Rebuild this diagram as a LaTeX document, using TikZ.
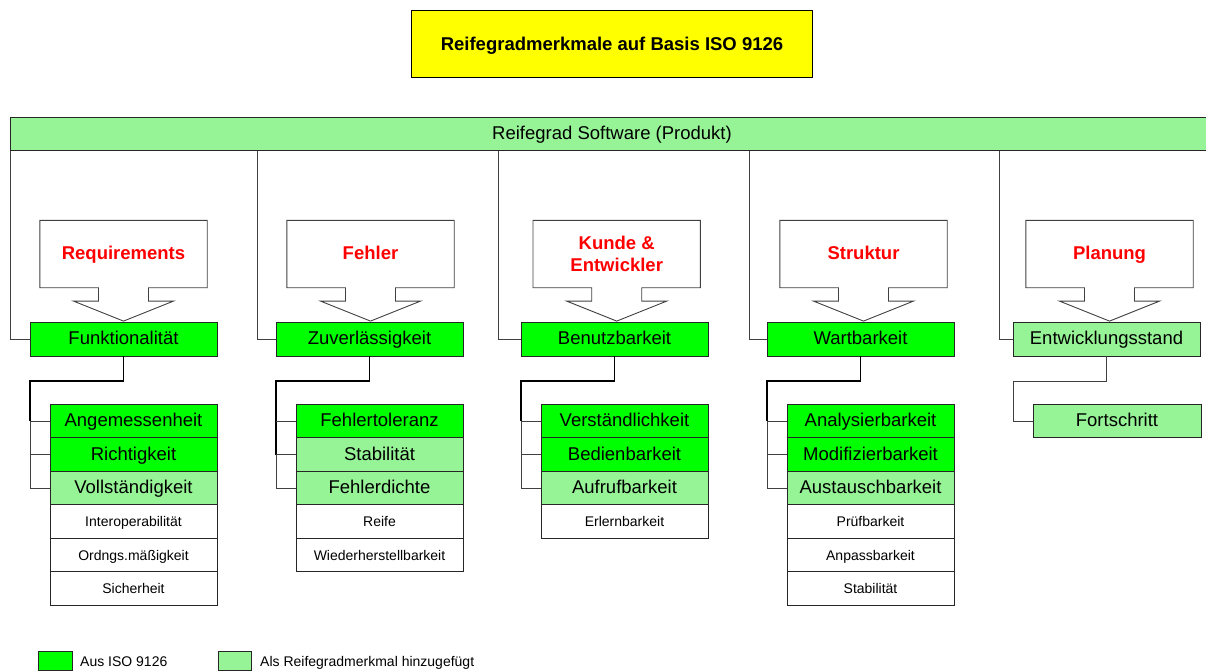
\documentclass[tikz,border=0pt]{standalone}
\usepackage{fontspec}
\setmainfont{Liberation Sans}
\definecolor{isogreen}{RGB}{0,255,0}
\definecolor{hatchbg}{RGB}{150,244,150}
\definecolor{titleyellow}{RGB}{255,255,0}
\definecolor{linegray}{RGB}{64,64,64}
\newcommand{\bigfnt}{\fontsize{18.5pt}{22.3pt}\selectfont}
\newcommand{\smallfnt}{\fontsize{14pt}{16pt}\selectfont}
\begin{document}
\begin{tikzpicture}[x=1pt,y=-1pt,
 rowbox/.style={rectangle, draw=black!85, line width=0.9pt, inner sep=0pt, outer sep=0pt, minimum width=167pt, minimum height=33.5pt},
 iso/.style={rowbox, fill=isogreen, font=\bigfnt, text height=15pt, text depth=4pt},
 added/.style={rowbox, fill=hatchbg, font=\bigfnt, text height=15pt, text depth=4pt},
 other/.style={rowbox, fill=white, font=\smallfnt, text height=13.4pt, text depth=3pt},
 levelone/.style={minimum width=187pt},
 callbase/.style={rectangle, inner sep=0pt, minimum width=167pt, minimum height=67pt, align=center, text=red, font=\bigfnt\bfseries},
 callbox/.style={callbase, text height=14.6pt, text depth=4pt},
 calloutline/.style={draw=linegray, line width=0.9pt},
 conn/.style={draw=linegray, line width=0.9pt},
 mainconn/.style={draw=black, line width=1.8pt},
 legtext/.style={font=\smallfnt, anchor=base west, inner sep=0pt},
]
\useasboundingbox (0,0) rectangle (1206,670);
\clip (0,0) rectangle (1206,670);

% title and top bar
\node[rectangle, draw=black, line width=0.9pt, fill=titleyellow, minimum width=401pt, minimum height=67pt, font=\bigfnt\bfseries, text height=16.4pt, text depth=4pt] (title) at (612,43.8) {Reifegradmerkmale auf Basis ISO 9126};
\node[added, minimum width=1204pt, minimum height=33.4pt, anchor=north west] (bar) at (10,117.3) {Reifegrad Software (Produkt)};

\coordinate (v1) at (10,0);
\coordinate (v2) at (257.5,0);
\coordinate (v3) at (498.5,0);
\coordinate (v4) at (749,0);
\coordinate (v5) at (999.5,0);

% ---------- column 1
\node[callbox] (r1) at (123.5,254) {Requirements};
\draw[calloutline] (r1.south west) -- (r1.north west) -- (r1.north east) -- (r1.south east) -- ([xshift=25pt]r1.south) -- ++(0,13.4) -- ++(25,0) -- ++(-50,20) -- ++(-50,-20) -- ++(25,0) -- ++(0,-13.4) -- cycle;
\node[iso, levelone, anchor=north west] (k1) at (30,322.7) {Funktionalität};
\node[iso, anchor=north west] (a1) at (50,404.3) {Angemessenheit};
\node[iso, anchor=north] (a2) at (a1.south) {Richtigkeit};
\node[added, anchor=north] (a3) at (a2.south) {Vollständigkeit};
\node[other, anchor=north] (a4) at (a3.south) {Interoperabilität};
\node[other, anchor=north] (a5) at (a4.south) {Ordngs.mäßigkeit};
\node[other, anchor=north] (a6) at (a5.south) {Sicherheit};
\draw[conn] (bar.south -| v1) |- (k1.west);
\draw[mainconn] (k1.south) -- ++(0,25) -| ([xshift=-20pt]a1.west);
\draw[conn] ([xshift=-20pt]a1.west) -- (a1.west);
\draw[conn] ([xshift=-20pt]a1.west) |- (a2.west);
\draw[conn] ([xshift=-20pt]a2.west) |- (a3.west);

% ---------- column 2
\node[callbox] (r2) at (370.5,254) {Fehler};
\draw[calloutline] (r2.south west) -- (r2.north west) -- (r2.north east) -- (r2.south east) -- ([xshift=25pt]r2.south) -- ++(0,13.4) -- ++(25,0) -- ++(-50,20) -- ++(-50,-20) -- ++(25,0) -- ++(0,-13.4) -- cycle;
\node[iso, levelone, anchor=north west] (k2) at (276,322.7) {Zuverlässigkeit};
\node[iso, anchor=north west] (b1) at (296,404.3) {Fehlertoleranz};
\node[added, anchor=north] (b2) at (b1.south) {Stabilität};
\node[added, anchor=north] (b3) at (b2.south) {Fehlerdichte};
\node[other, anchor=north] (b4) at (b3.south) {Reife};
\node[other, anchor=north] (b5) at (b4.south) {Wiederherstellbarkeit};
\draw[conn] (bar.south -| v2) |- (k2.west);
\draw[mainconn] (k2.south) -- ++(0,25) -| ([xshift=-20pt]b2.west);
\draw[conn] ([xshift=-20pt]b1.west) -- (b1.west);
\draw[conn] ([xshift=-20pt]b2.west) -- (b2.west);
\draw[conn] ([xshift=-20pt]b2.west) |- (b3.west);

% ---------- column 3
\node[callbase] (r3) at (616.7,254) {Kunde \&\\Entwickler};
\draw[calloutline] (r3.south west) -- (r3.north west) -- (r3.north east) -- (r3.south east) -- ([xshift=25pt]r3.south) -- ++(0,13.4) -- ++(25,0) -- ++(-50,20) -- ++(-50,-20) -- ++(25,0) -- ++(0,-13.4) -- cycle;
\node[iso, levelone, anchor=north west] (k3) at (521,322.7) {Benutzbarkeit};
\node[iso, anchor=north west] (c1) at (541,404.3) {Verständlichkeit};
\node[iso, anchor=north] (c2) at (c1.south) {Bedienbarkeit};
\node[added, anchor=north] (c3) at (c2.south) {Aufrufbarkeit};
\node[other, anchor=north] (c4) at (c3.south) {Erlernbarkeit};
\draw[conn] (bar.south -| v3) |- (k3.west);
\draw[mainconn] (k3.south) -- ++(0,25) -| ([xshift=-20pt]c1.west);
\draw[conn] ([xshift=-20pt]c1.west) -- (c1.west);
\draw[conn] ([xshift=-20pt]c1.west) |- (c2.west);
\draw[conn] ([xshift=-20pt]c2.west) |- (c3.west);

% ---------- column 4
\node[callbox] (r4) at (863.5,254) {Struktur};
\draw[calloutline] (r4.south west) -- (r4.north west) -- (r4.north east) -- (r4.south east) -- ([xshift=25pt]r4.south) -- ++(0,13.4) -- ++(25,0) -- ++(-50,20) -- ++(-50,-20) -- ++(25,0) -- ++(0,-13.4) -- cycle;
\node[iso, levelone, anchor=north west] (k4) at (767,322.7) {Wartbarkeit};
\node[iso, anchor=north west] (d1) at (787,404.3) {Analysierbarkeit};
\node[iso, anchor=north] (d2) at (d1.south) {Modifizierbarkeit};
\node[added, anchor=north] (d3) at (d2.south) {Austauschbarkeit};
\node[other, anchor=north] (d4) at (d3.south) {Prüfbarkeit};
\node[other, anchor=north] (d5) at (d4.south) {Anpassbarkeit};
\node[other, anchor=north] (d6) at (d5.south) {Stabilität};
\draw[conn] (bar.south -| v4) |- (k4.west);
\draw[mainconn] (k4.south) -- ++(0,25) -| ([xshift=-20pt]d1.west);
\draw[conn] ([xshift=-20pt]d1.west) -- (d1.west);
\draw[conn] ([xshift=-20pt]d1.west) |- (d2.west);
\draw[conn] ([xshift=-20pt]d2.west) |- (d3.west);

% ---------- column 5
\node[callbox] (r5) at (1109.5,254) {Planung};
\draw[calloutline] (r5.south west) -- (r5.north west) -- (r5.north east) -- (r5.south east) -- ([xshift=25pt]r5.south) -- ++(0,13.4) -- ++(25,0) -- ++(-50,20) -- ++(-50,-20) -- ++(25,0) -- ++(0,-13.4) -- cycle;
\node[added, levelone, anchor=north west] (k5) at (1013,322.7) {Entwicklungsstand};
\node[added, levelone, minimum width=168pt, anchor=north west] (e1) at (1033,404.3) {Fortschritt};
\draw[conn] (bar.south -| v5) |- (k5.west);
\draw[conn] (k5.south) -- ++(0,25) -| ([xshift=-20pt]e1.west) -- (e1.west);

% ---------- legend
\node[iso, minimum width=34.4pt, minimum height=17pt] (lg1) at (55.5,660.8) {};
\node[legtext] (lt1) at (80,666.7) {Aus ISO 9126};
\node[added, minimum width=33.4pt, minimum height=17pt] (lg2) at (235,660.8) {};
\node[legtext] (lt2) at (260,666.7) {Als Reifegradmerkmal hinzugefügt};
\end{tikzpicture}
\end{document}
